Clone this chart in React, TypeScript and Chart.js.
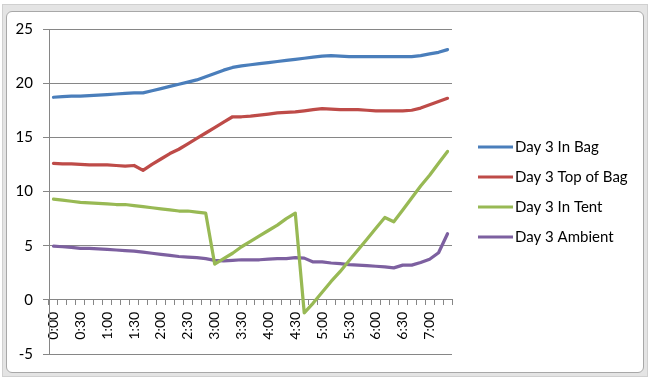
import React, { useEffect, useRef } from "react";
import { Chart, registerables } from "chart.js";

Chart.register(...registerables);

const timeLabels: string[] = [
  "0:00", "0:10", "0:20", "0:30", "0:40", "0:50",
  "1:00", "1:10", "1:20", "1:30", "1:40", "1:50",
  "2:00", "2:10", "2:20", "2:30", "2:40", "2:50",
  "3:00", "3:10", "3:20", "3:30", "3:40", "3:50",
  "4:00", "4:10", "4:20", "4:30", "4:40", "4:50",
  "5:00", "5:10", "5:20", "5:30", "5:40", "5:50",
  "6:00", "6:10", "6:20", "6:30", "6:40", "6:50",
  "7:00", "7:10", "7:20",
];

const seriesNames: string[] = ["Day 3 In Bag", "Day 3 Top of Bag", "Day 3 In Tent", "Day 3 Ambient"];

const inBag: number[] = [
  18.7, 18.75, 18.8, 18.8, 18.85, 18.9, 18.95, 19.0, 19.05, 19.1, 19.1,
  19.3, 19.5, 19.7, 19.9, 20.1, 20.3, 20.6, 20.9, 21.2, 21.45,
  21.6, 21.7, 21.8, 21.9, 22.0, 22.1, 22.2, 22.3, 22.4, 22.5, 22.55,
  22.5, 22.45, 22.45, 22.45, 22.45, 22.45, 22.45, 22.45, 22.45, 22.55, 22.7, 22.85, 23.1,
];

const topOfBag: number[] = [
  12.6, 12.55, 12.55, 12.5, 12.45, 12.45, 12.45, 12.4, 12.35, 12.4, 11.95,
  12.5, 13.0, 13.5, 13.9, 14.4, 14.9, 15.4, 15.9, 16.4, 16.9,
  16.9, 16.95, 17.05, 17.15, 17.25, 17.3, 17.35, 17.45, 17.55, 17.65, 17.6,
  17.55, 17.55, 17.55, 17.5, 17.45, 17.45, 17.45, 17.45, 17.5, 17.7, 18.0, 18.3, 18.6,
];

const inTent: number[] = [
  9.3, 9.2, 9.1, 9.0, 8.95, 8.9, 8.85, 8.8, 8.8, 8.7, 8.6, 8.5, 8.4, 8.3, 8.2, 8.2, 8.1, 8.0,
  3.3, 3.8, 4.3, 4.9, 5.4, 5.9, 6.4, 6.9, 7.5, 8.0,
  -1.2, -0.3, 0.7, 1.7, 2.6, 3.6, 4.6, 5.6, 6.6, 7.6,
  7.2, 8.3, 9.4, 10.5, 11.5, 12.6, 13.7,
];

const ambient: number[] = [
  4.95, 4.9, 4.85, 4.75, 4.75, 4.7, 4.65, 4.6, 4.55, 4.5, 4.4, 4.3, 4.2, 4.1, 4.0,
  3.95, 3.9, 3.8, 3.65, 3.6, 3.65, 3.7, 3.7, 3.7, 3.75, 3.8, 3.8, 3.9, 3.85,
  3.5, 3.5, 3.4, 3.35, 3.25, 3.2, 3.15, 3.1, 3.05, 2.95, 3.2, 3.2, 3.45, 3.75, 4.35, 6.1,
];

const yTicks: number[] = [-5, 0, 5, 10, 15, 20, 25];

const colors: string[] = ["#4A7EBB", "#BE4B48", "#98B954", "#7D60A0"];

const FONT = "Lato, 'Open Sans', sans-serif";
const GRID = "#868686";

const legendPlugin = {
  id: "sideLegend",
  afterDraw(chart: any) {
    const ctx = chart.ctx;
    ctx.save();
    chart.data.datasets.forEach((ds: any, i: number) => {
      const y = 147 + i * 30;
      ctx.strokeStyle = ds.borderColor;
      ctx.lineWidth = 3;
      ctx.lineCap = "butt";
      ctx.beginPath();
      ctx.moveTo(478, y);
      ctx.lineTo(513, y);
      ctx.stroke();
      ctx.fillStyle = "#000";
      ctx.font = `15px ${FONT}`;
      ctx.textBaseline = "middle";
      ctx.textAlign = "left";
      ctx.fillText(ds.label, 515, y);
    });
    ctx.restore();
  },
};

export default function App() {
  const ref = useRef<HTMLCanvasElement>(null);

  useEffect(() => {
    if (!ref.current) return;
    const series = [inBag, topOfBag, inTent, ambient];
    const chart = new Chart(ref.current, {
      type: "line",
      data: {
        labels: timeLabels,
        datasets: series.map((d, i) => ({
          label: seriesNames[i],
          data: d,
          borderColor: colors[i],
          backgroundColor: colors[i],
          borderWidth: 3.25,
          pointRadius: 0,
          tension: 0,
          borderJoinStyle: "round" as const,
          borderCapStyle: "round" as const,
          fill: false,
        })),
      },
      options: {
        animation: false,
        responsive: false,
        layout: { padding: { left: 8, right: 204, top: 29, bottom: 26 } },
        plugins: {
          legend: { display: false },
          tooltip: { enabled: false },
        },
        scales: {
          x: {
            type: "category",
            position: { y: 0 } as any,
            offset: true,
            grid: {
              offset: true,
              drawOnChartArea: false,
              drawTicks: true,
              tickLength: 5,
              color: GRID,
            },
            border: { display: true, color: GRID },
            ticks: {
              autoSkip: false,
              maxRotation: 90,
              minRotation: 90,
              padding: 7,
              color: "#000",
              font: { family: FONT, size: 14 },
              callback: (_v: any, idx: number) => (idx % 3 === 0 ? timeLabels[idx] : ""),
            },
          },
          y: {
            min: yTicks[0],
            max: yTicks[yTicks.length - 1],
            afterBuildTicks: (scale: any) => {
              scale.ticks = yTicks.map((v) => ({ value: v }));
            },
            afterFit: (scale: any) => {
              scale.width = 41;
            },
            grid: { color: GRID, tickLength: 6, drawTicks: true },
            border: { display: true, color: GRID },
            ticks: {
              padding: 10,
              color: "#000",
              font: { family: FONT, size: 15 },
            },
          },
        },
      },
      plugins: [legendPlugin],
    });
    return () => chart.destroy();
  }, []);

  return (
    <div style={{ position: "fixed", left: 0, top: 0, width: 656, height: 380, background: "#fff", overflow: "hidden" }}>
      <div style={{ position: "absolute", left: 2, top: 4, width: 644, height: 371, background: "#e4e4e4", border: "1px solid #d0d0d0" }} />
      <div style={{ position: "absolute", left: 6, top: 11, width: 636, height: 360, background: "#fff", border: "1px solid #a8a8a8", borderRadius: 6 }} />
      <canvas ref={ref} width={656} height={380} style={{ position: "absolute", left: 0, top: 0 }} />
    </div>
  );
}
